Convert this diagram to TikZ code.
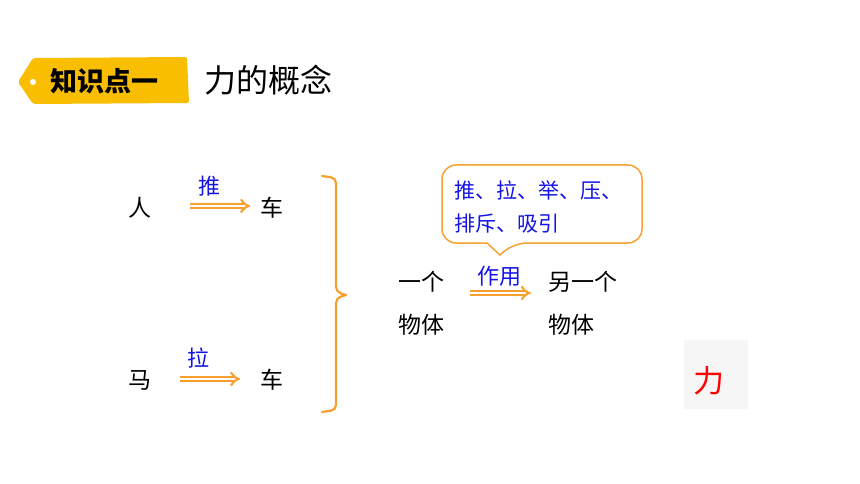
\documentclass[tikz,border=0pt]{standalone}
\usepackage{fontspec}
\setmainfont{Noto Sans CJK SC}
\usepackage{tikz}
\usetikzlibrary{calc,arrows.meta,positioning}
\definecolor{tagyellow}{HTML}{F9BE00}
\definecolor{arrorange}{HTML}{F7A030}
\definecolor{labelblue}{HTML}{1414E6}
\definecolor{boxgrey}{HTML}{F6F6F6}

\begin{document}
\begin{tikzpicture}[x=1pt,y=-1pt]

\tikzset{word/.style={font=\fontsize{23}{25}\selectfont,inner sep=0pt,text=black},
bluelabel/.style={font=\fontsize{22}{24}\selectfont,inner sep=0pt,text=labelblue},
dblarrow/.style={draw=arrorange,double=white,double distance=2.6pt,line width=2.1pt,-{Implies[length=6pt]}},
bracestyle/.style={draw=arrorange,line width=2.2pt,line cap=round,rounded corners=5pt}}

\useasboundingbox (0,0) rectangle (860,484);

% Tag and title
\fill[tagyellow,rounded corners=2pt] (18,82) -- (33,58) -- (187,57) -- (189,103) -- (33,104) -- cycle;
\fill[white] (33,82) circle (3);
\node[font=\fontsize{27}{29}\selectfont\bfseries,inner sep=0pt] (tag) at (104,81) {知识点一};
\node[font=\fontsize{32}{34}\selectfont,inner sep=0pt,anchor=west] (title) at (204,80) {力的概念};

% Left pairs
\node[word] (ren) at (140,208) {人};
\node[word] (che1) at (272,208) {车};
\node[word] (ma) at (140,380) {马};
\node[word] (che2) at (272,380) {车};
\node[bluelabel] (tui) at (209,186) {推};
\node[bluelabel] (la) at (198,358) {拉};
\draw[dblarrow,shorten <=38pt,shorten >=10pt] ([yshift=2pt]ren.east) -- ([yshift=2pt]che1.west);
\draw[dblarrow,shorten <=28pt,shorten >=20pt] ([yshift=1pt]ma.east) -- ([yshift=1pt]che2.west);

% Brace
\draw[bracestyle] (322,176) -- (336,178) -- (336,292) -- (346,295);
\draw[bracestyle] (346,295) -- (336,298) -- (336,410) -- (322,412);

% Right part
\node[word,anchor=west] (yige) at (398,282) {一个};
\node[word,anchor=west] (wuti1) at (398,325) {物体};
\node[word,anchor=west] (lingyige) at (548,282) {另一个};
\node[word,anchor=west] (wuti2) at (548,325) {物体};
\node[bluelabel] (zuoyong) at (499,276) {作用};
\draw[dblarrow,shorten <=26pt,shorten >=17pt] ([yshift=-11pt]yige.east) -- ([yshift=-11pt]lingyige.west);

% Callout
\draw[arrorange,line width=1.5pt] (500,255) -- (487,243) [rounded corners=14pt] -- (442,243) -- (442,165) -- (642,165) -- (642,243) -- (513,243) [sharp corners] -- cycle;
\node[font=\fontsize{21}{33}\selectfont,text=labelblue,inner sep=0pt,align=left,anchor=north west] (kinds) at (454,181) {推、拉、举、压、\\排斥、吸引};

% Force box
\fill[boxgrey] (684,340) rectangle (748,409);
\node[font=\fontsize{31}{33}\selectfont,text=red,inner sep=0pt] (li) at (709,381) {力};

\end{tikzpicture}
\end{document}
